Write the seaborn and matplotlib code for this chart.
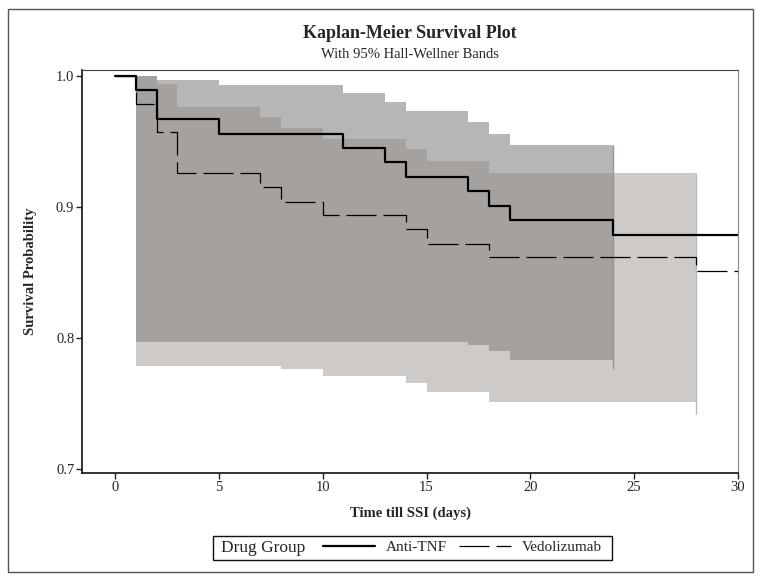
import seaborn as sns
import matplotlib.pyplot as plt
from matplotlib.patches import Rectangle
from matplotlib.lines import Line2D

# Kaplan-Meier estimates (step functions, steps-post)
anti_t = [0, 1, 2, 5, 11, 13, 14, 17, 18, 19, 24, 30]
anti_s = [1.0, 0.989, 0.967, 0.956, 0.945, 0.934, 0.923, 0.912, 0.901, 0.890, 0.879, 0.879]
vedo_t = [0, 1, 2, 3, 7, 8, 10, 14, 15, 18, 28, 30]
vedo_s = [1.0, 0.979, 0.957, 0.926, 0.915, 0.904, 0.894, 0.883, 0.872, 0.862, 0.851, 0.851]

# 95% Hall-Wellner bands
anti_band_t = [1, 2, 5, 11, 13, 14, 17, 18, 19, 24]
anti_upper = [1.0, 0.997, 0.993, 0.987, 0.980, 0.973, 0.965, 0.956, 0.947, 0.947]
anti_lower = [0.797, 0.797, 0.797, 0.797, 0.797, 0.797, 0.795, 0.790, 0.783, 0.783]
vedo_band_t = [1, 2, 3, 7, 8, 10, 14, 15, 18, 28]
vedo_upper = [1.0, 0.994, 0.976, 0.969, 0.960, 0.952, 0.944, 0.935, 0.926, 0.926]
vedo_lower = [0.779, 0.779, 0.779, 0.779, 0.776, 0.771, 0.766, 0.759, 0.751, 0.751]
# vertical edge drawn at the end of each band
band_end_t = [24, 28]
band_end_top = [0.947, 0.926]
band_end_bottom = [0.776, 0.742]

groups = ['Anti-TNF', 'Vedolizumab']
x_ticks = [0, 5, 10, 15, 20, 25, 30]
y_ticks = [0.7, 0.8, 0.9, 1.0]

sns.set_style("white")
plt.rcParams['font.family'] = ['Liberation Serif', 'DejaVu Serif']

fig = plt.figure(figsize=(7.62, 5.82), dpi=100)
ax = fig.add_axes([82 / 762, 109 / 582, 656 / 762, 403 / 582])

vedo_fill = '#cecac7'
anti_fill = '#8a8683'
ax.fill_between(vedo_band_t, vedo_lower, vedo_upper, step='post', color=vedo_fill, lw=0, zorder=1)
ax.fill_between(anti_band_t, anti_lower, anti_upper, step='post', color=anti_fill, alpha=0.6, lw=0, zorder=2)
ax.vlines(band_end_t, band_end_bottom, band_end_top, colors=['#9a9491', '#bdb8b5'], lw=1, zorder=2)

dash = (0, (24, 5.6))
sns.lineplot(x=anti_t, y=anti_s, drawstyle='steps-post', estimator=None, color='black',
             lw=1.6, ax=ax, zorder=4)
sns.lineplot(x=vedo_t, y=vedo_s, drawstyle='steps-post', estimator=None, color='black',
             lw=0.9, linestyle=dash, ax=ax, zorder=4)

ax.set_xlim(-1.59, 30)
ax.set_ylim(0.697, 1.0046)
ax.set_xticks(x_ticks)
ax.set_xticklabels([str(t) for t in x_ticks])
ax.set_yticks(y_ticks)
ax.set_yticklabels(['%.1f' % v for v in y_ticks])
ax.tick_params(axis='both', direction='out', length=4, width=1, color='#222222',
               labelsize=10.5, pad=1.5, left=True, bottom=True)

for side in ['left', 'bottom']:
    ax.spines[side].set_color('#111111')
    ax.spines[side].set_linewidth(1.2)
ax.spines['top'].set_color('#444444')
ax.spines['right'].set_color('#888888')

ax.set_xlabel('Time till SSI (days)', fontsize=10.5, fontweight='bold')
ax.set_ylabel('Survival Probability', fontsize=10.5, fontweight='bold')
ax.xaxis.set_label_coords(0.5, -0.083)
ax.yaxis.set_label_coords(-0.068, 0.5)

fig.text(410 / 762, 549 / 582, 'Kaplan-Meier Survival Plot', ha='center', va='center',
         fontsize=13, fontweight='bold')
fig.text(410 / 762, 527 / 582, 'With 95% Hall-Wellner Bands', ha='center', va='center',
         fontsize=10.5)

# legend row: box + group title + line samples
fig.add_artist(Rectangle((213 / 762, 22 / 582), 399 / 762, 24 / 582, transform=fig.transFigure,
                         fill=False, ec='#111111', lw=1))
fig.text(221 / 762, 34 / 582, 'Drug Group', ha='left', va='center', fontsize=12.5)
handles = [Line2D([], [], color='black', lw=1.6),
           Line2D([], [], color='black', lw=0.9, linestyle=dash)]
fig.legend(handles, groups, loc='center left', bbox_to_anchor=(323 / 762, 35 / 582), ncol=2,
           frameon=False, fontsize=11, handlelength=3.4, handletextpad=0.7, columnspacing=0.8,
           borderpad=0, borderaxespad=0)

# outer frame
fig.add_artist(Rectangle((8 / 762, 10 / 582), 745 / 762, 563 / 582, transform=fig.transFigure,
                         fill=False, ec='#555555', lw=1))

fig.savefig('out.png', dpi=100)
